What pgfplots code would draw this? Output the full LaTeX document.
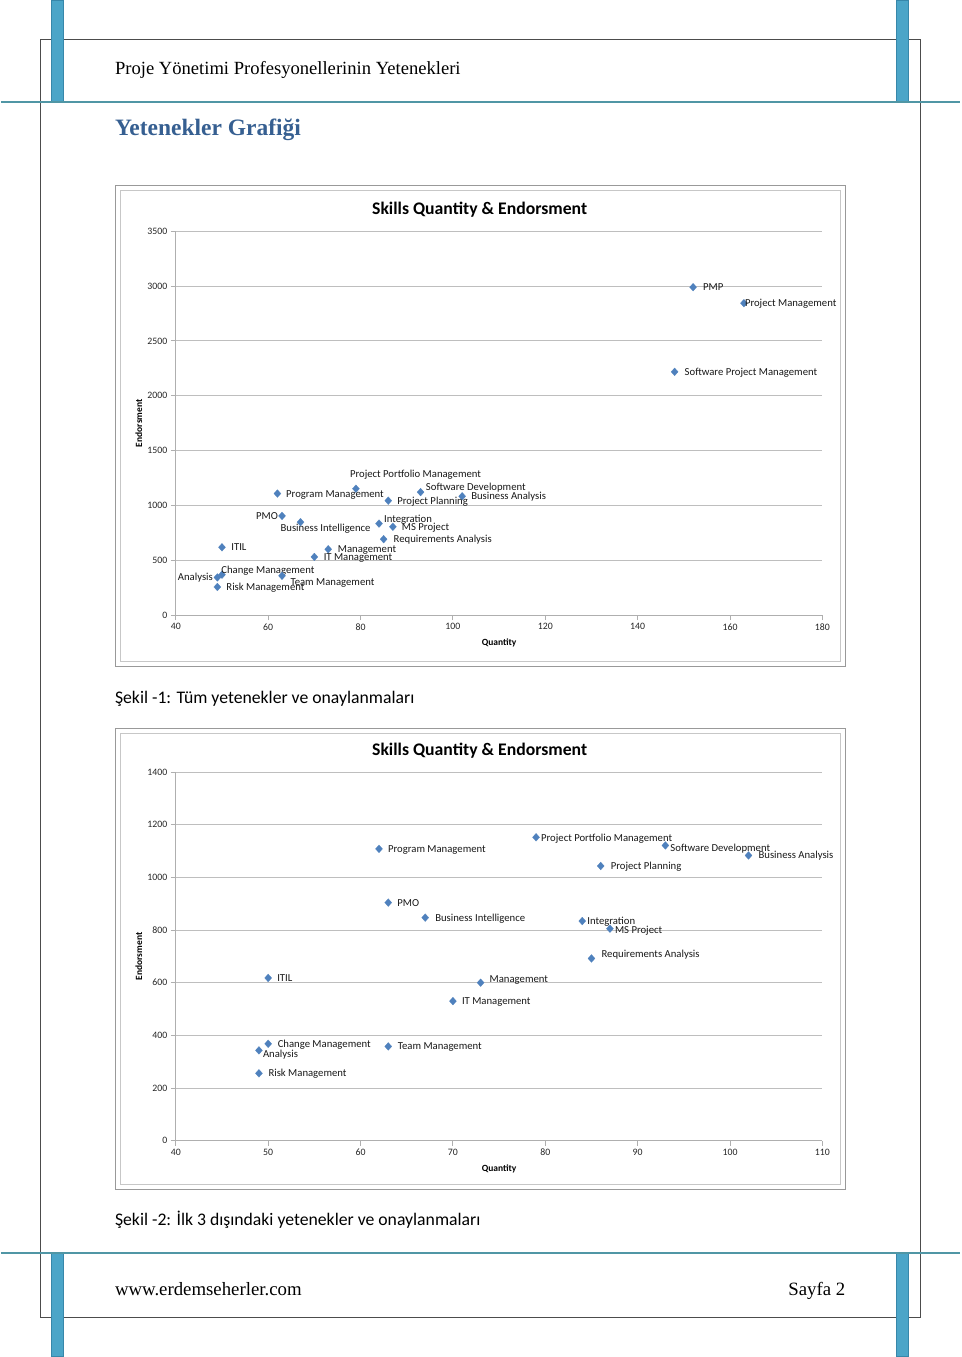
\documentclass[border=0pt]{standalone}
\usepackage{pgfplots}
\pgfplotsset{compat=1.18}
\usepackage{pgfplotstable}
\usepackage{fontspec}
\setmainfont{Liberation Serif}
\newfontfamily\calfont{Carlito}
\definecolor{xlblue}{HTML}{4F81BD}
\definecolor{headblue}{HTML}{365F91}
\definecolor{barblue}{RGB}{75,165,200}
\definecolor{baredge}{RGB}{55,135,170}
\definecolor{tealline}{RGB}{80,150,165}
\definecolor{gridgray}{RGB}{190,190,190}
\definecolor{axgray}{RGB}{175,175,175}

% chart 1, labels anchored on their left side
\pgfplotstableread[col sep=comma]{
q,e,dx,dy,label
152,2990,10,0,PMP
163,2844,1,0,Project Management
148,2218,10,0,Software Project Management
79,1152,-6,15,Project Portfolio Management
62,1108,8.7,0,Program Management
93,1121,5.3,4.7,Software Development
102,1083,9,0,Business Analysis
86,1043,9,0,Project Planning
67,847,-20,-6.3,Business Intelligence
84,834,5,4.3,Integration
87,805,9,0,MS Project
85,692,10,0,Requirements Analysis
50,618,9.3,0,ITIL
73,600,9.6,0,Management
70,530,9.3,0,IT Management
50,368,-0.7,5,Change Management
63,358,8.4,-6,Team Management
49,256,9,0,Risk Management
}\tableA
% chart 1, labels anchored on their right side
\pgfplotstableread[col sep=comma]{
q,e,dx,dy,label
63,904,-4,0,PMO
49,343,-4.4,0,Analysis
}\tableAe

\pgfplotstableread[col sep=comma]{
q,e,dx,dy,label
62,1108,9,0,Program Management
79,1152,5,-1,Project Portfolio Management
93,1121,5,-3,Software Development
102,1083,10,0,Business Analysis
86,1043,10,0,Project Planning
63,904,9,0,PMO
67,847,10,0,Business Intelligence
84,834,5,0,Integration
87,805,5,-1,MS Project
85,692,10,4,Requirements Analysis
50,618,9,0,ITIL
73,600,9,4,Management
70,530,9,0,IT Management
50,368,9.5,0,Change Management
49,343,4,-4,Analysis
63,358,9.5,0,Team Management
49,256,9.5,0,Risk Management
}\tableB

\pgfplotsset{
  xlscatter/.style={
    scale only axis,
    width=647pt,
    anchor=south west,
    axis lines*=left,
    axis line style={axgray, line width=0.9pt},
    ymajorgrids,
    grid style={gridgray, line width=0.9pt},
    tick align=outside,
    major tick length=5pt,
    tick style={axgray, line width=0.9pt},
    ticklabel style={font=\calfont\fontsize{9.8}{11}\selectfont, text=black!85},
    /pgf/number format/assume math mode=true,
    /pgf/number format/1000 sep={},
    xlabel={Quantity}, ylabel={Endorsment},
    every axis x label/.style={at={(rel axis cs:0.5,0)}, anchor=center, yshift=-28pt,
      font=\calfont\bfseries\fontsize{9.5}{11}\selectfont},
    every axis y label/.style={at={(rel axis cs:0,0.5)}, anchor=center, rotate=90, yshift=37pt,
      font=\calfont\bfseries\fontsize{9.5}{11}\selectfont},
    clip=false,
  },
  xlpoints/.style={
    only marks,
    mark=diamond*,
    mark size=3.9pt,
    mark options={fill=xlblue, draw=xlblue, line width=0.2pt, xscale=1.2},
    point meta=explicit symbolic,
    visualization depends on={\thisrow{dx} \as \mydx},
    visualization depends on={\thisrow{dy} \as \mydy},
    nodes near coords,
    nodes near coords style={anchor=#1, xshift=\mydx pt, yshift=\mydy pt,
      inner sep=0pt, text height=7pt, text depth=0pt, text=black!90,
      font=\calfont\fontsize{10.7}{12}\selectfont},
  },
  xlpoints/.default=west,
}

\begin{document}
\begin{tikzpicture}
\begin{scope}[x=1pt,y=-1pt]
  \fill[white] (0,0) rectangle (960,1357);
  % page frame
  \draw[black!70, line width=1pt] (39.5,39.5) rectangle (920.5,1317.5);
  % bars
  \foreach \xx in {51,896}{
    \filldraw[fill=barblue, draw=baredge, line width=0.8pt] (\xx,0) rectangle (\xx+12,102);
    \filldraw[fill=barblue, draw=baredge, line width=0.8pt] (\xx,1253) rectangle (\xx+12,1357);
  }
  \draw[tealline, line width=1.8pt] (0,102) -- (960,102);
  \draw[tealline, line width=1.8pt] (0,1253) -- (960,1253);
  % texts
  \node[anchor=base west, inner sep=0pt, font=\fontsize{18.6}{22}\selectfont] at (114,74)
    {Proje Yönetimi Profesyonellerinin Yetenekleri};
  \node[anchor=base west, inner sep=0pt, font=\bfseries\fontsize{23.5}{26}\selectfont, text=headblue] at (114,135)
    {Yetenekler Grafiği};
  \node[anchor=base west, inner sep=0pt, font=\calfont\fontsize{17.7}{20}\selectfont] at (114,704)
    {Şekil -1: Tüm yetenekler ve onaylanmaları};
  \node[anchor=base west, inner sep=0pt, font=\calfont\fontsize{17.7}{20}\selectfont] at (114,1226)
    {Şekil -2: İlk 3 dışındaki yetenekler ve onaylanmaları};
  \node[anchor=base west, inner sep=0pt, font=\fontsize{18.8}{22}\selectfont] at (114,1296)
    {www.erdemseherler.com};
  \node[anchor=base east, inner sep=0pt, font=\fontsize{18.8}{22}\selectfont] at (845,1296)
    {Sayfa 2};
  % chart frames
  \draw[black!40, line width=1pt] (114.5,185.5) rectangle (845.5,666.5);
  \draw[black!22, line width=1pt] (119.5,190.5) rectangle (840.5,661.5);
  \draw[black!40, line width=1pt] (114.5,728.5) rectangle (845.5,1189.5);
  \draw[black!22, line width=1pt] (119.5,733.5) rectangle (840.5,1184.5);
  % chart titles
  \node[font=\calfont\bfseries\fontsize{17.7}{19}\selectfont] at (479,209) {Skills Quantity \& Endorsment};
  \node[font=\calfont\bfseries\fontsize{17.7}{19}\selectfont] at (479,751) {Skills Quantity \& Endorsment};
\end{scope}

\begin{axis}[xlscatter,
  at={(175pt,-615pt)}, height=384pt,
  xmin=40, xmax=180, xtick={40,60,...,180},
  ymin=0, ymax=3500, ytick={0,500,...,3500}]
  \addplot[xlpoints=west] table[x=q, y=e, meta=label] {\tableA};
  \addplot[xlpoints=east] table[x=q, y=e, meta=label] {\tableAe};
\end{axis}

\begin{axis}[xlscatter,
  at={(175pt,-1141pt)}, height=369pt,
  xmin=40, xmax=110, xtick={40,50,...,110},
  ymin=0, ymax=1400, ytick={0,200,...,1400}]
  \addplot[xlpoints=west] table[x=q, y=e, meta=label] {\tableB};
\end{axis}
\end{tikzpicture}
\end{document}
